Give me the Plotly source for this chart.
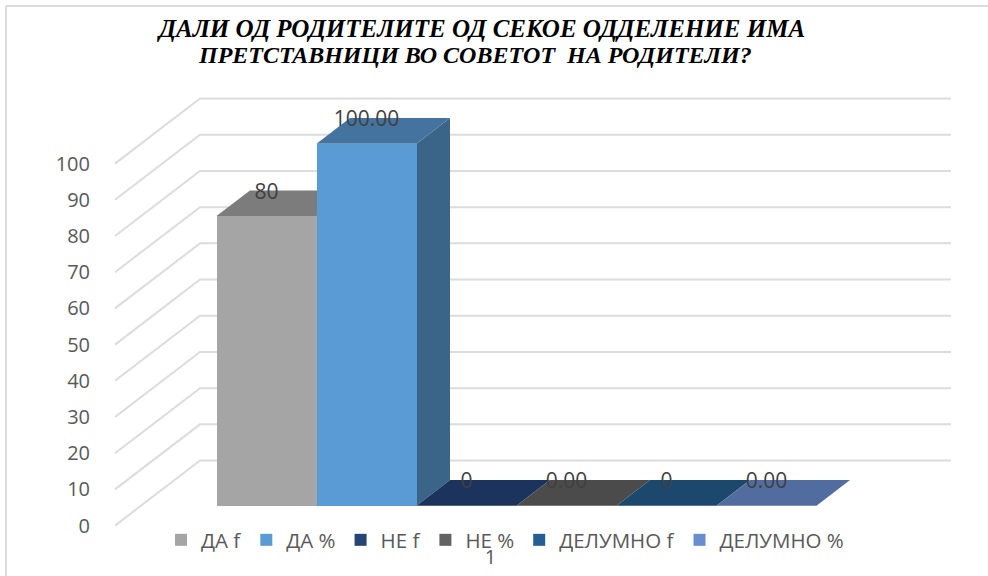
import plotly.graph_objects as go

series_names = ["ДА f", "ДА %", "НЕ f", "НЕ %", "ДЕЛУМНО f", "ДЕЛУМНО %"]
series_values = [80, 100, 0, 0, 0, 0]
value_labels = ["80", "100.00", "0", "0.00", "0", "0.00"]
category_labels = ["1"]
y_ticks = [0, 10, 20, 30, 40, 50, 60, 70, 80, 90, 100]

front_colors = ["#a5a5a5", "#5b9bd5", "#264478", "#636363", "#255e91", "#698ed0"]
top_colors = ["#7c7c7c", "#44739f", "#1c335d", "#4b4b4b", "#1c486e", "#516c9f"]
side_colors = ["#6b6b6b", "#3a6488", "#182c50", "#404040", "#183e5e", "#456189"]

TITLE_1 = "ДАЛИ ОД РОДИТЕЛИТЕ ОД СЕКОЕ ОДДЕЛЕНИЕ ИМА"
TITLE_2 = "ПРЕТСТАВНИЦИ ВО СОВЕТОТ  НА РОДИТЕЛИ?"

# oblique projection of the 3-D look: one depth unit, in axis units
DX, DY = 0.85, 17.96
D0, D1 = 0.306, 0.70
GAP = 0.755
SPAN = GAP * 2 + len(series_values)
LABEL_DROP = 0.83
PLOT_L, PLOT_B = 100, 543
XR = [-0.15, 8.73]
YR = [-4.81, 145.19]
GRID = "#dcdcdc"
TXT = "#595959"
FONT = "Open Sans"


def proj(x, v, d):
    return x + DX * d, v + DY * d


fig = go.Figure()

# walls / gridlines
gx, gy = [], []
for t in y_ticks:
    for x, d in [(0, 0), (0, 1), (SPAN, 1)]:
        px, py = proj(x, t, d)
        gx.append(px)
        gy.append(py)
    gx.append(None)
    gy.append(None)
fig.add_trace(go.Scatter(x=gx, y=gy, mode="lines", line=dict(color=GRID, width=2),
                         showlegend=False, hoverinfo="skip"))

base = DY * D0
for i, v in enumerate(series_values):
    x0, x1 = GAP + i, GAP + i + 1
    # right side
    pts = [proj(x1, v, D0), proj(x1, v, D1), proj(x1, 0, D1), proj(x1, 0, D0)]
    fig.add_trace(go.Scatter(x=[p[0] for p in pts], y=[p[1] for p in pts], mode="lines",
                             fill="toself", fillcolor=side_colors[i], line=dict(width=0),
                             showlegend=False, hoverinfo="skip"))
    # top
    pts = [proj(x0, v, D0), proj(x0, v, D1), proj(x1, v, D1), proj(x1, v, D0)]
    fig.add_trace(go.Scatter(x=[p[0] for p in pts], y=[p[1] for p in pts], mode="lines",
                             fill="toself", fillcolor=top_colors[i], line=dict(width=0),
                             showlegend=False, hoverinfo="skip"))

# front faces, on an overlay so they cover neighbouring side faces
for i, v in enumerate(series_values):
    fig.add_trace(go.Bar(x=[GAP + i + 0.5 + DX * D0], y=[v], base=[base], width=[1],
                         name=series_names[i], marker=dict(color=front_colors[i], line=dict(width=0)),
                         xaxis="x2", yaxis="y2"))

fig.add_trace(go.Scatter(
    x=[GAP + i + 0.5 + DX * D0 for i in range(len(series_values))],
    y=[v + DY * D1 - LABEL_DROP for v in series_values],
    mode="text", text=value_labels, textposition="middle center",
    textfont=dict(family=FONT, size=21, color="#404040"),
    showlegend=False, hoverinfo="skip", xaxis="x2", yaxis="y2"))

frame = dict(type="line", xref="paper", yref="paper", line=dict(color="#dcdcdc", width=2), layer="above")
fig.update_layout(
    width=988, height=576,
    margin=dict(l=PLOT_L, r=0, t=0, b=576 - PLOT_B, autoexpand=False),
    paper_bgcolor="white", plot_bgcolor="rgba(0,0,0,0)",
    barmode="overlay", bargap=0,
    title=dict(text="<b><i>" + TITLE_1 + "</i></b>", x=482 / 988, xanchor="center", xref="container",
               y=1 - 28 / 576, yanchor="middle", yref="container",
               font=dict(family="Liberation Serif", size=25, color="black")),
    annotations=[dict(text="<b><i>" + TITLE_2 + "</i></b>", xref="paper", yref="paper",
                      x=(475 - PLOT_L) / 888, y=(PLOT_B - 55) / PLOT_B, xanchor="center", yanchor="middle",
                      showarrow=False, font=dict(family="Liberation Serif", size=24, color="black"))],
    font=dict(family=FONT, color=TXT),
    xaxis=dict(range=XR, showgrid=False, zeroline=False, showline=False, tickvals=[SPAN / 2],
               ticktext=category_labels, ticks="", tickfont=dict(family=FONT, size=20, color=TXT)),
    yaxis=dict(range=YR, showgrid=False, zeroline=False, showline=False, tickvals=y_ticks,
               ticks="outside", ticklen=5, tickcolor="rgba(0,0,0,0)",
               tickfont=dict(family=FONT, size=20, color=TXT)),
    xaxis2=dict(range=XR, overlaying="x", visible=False),
    yaxis2=dict(range=YR, overlaying="y", visible=False),
    legend=dict(orientation="h", x=(161 - PLOT_L) / 888, y=3 / PLOT_B, xanchor="left", yanchor="middle",
                font=dict(family=FONT, size=20.5, color=TXT), bgcolor="rgba(0,0,0,0)",
                traceorder="normal"),
    shapes=[
        dict(frame, x0=-94 / 888, x1=-94 / 888, y0=(PLOT_B - 6) / PLOT_B, y1=-(576 - PLOT_B) / PLOT_B),
        dict(frame, x0=-94 / 888, x1=1, y0=(PLOT_B - 6) / PLOT_B, y1=(PLOT_B - 6) / PLOT_B),
    ],
)
fig.write_html("out.html", config=dict(displayModeBar=False),
               post_script="document.body.style.margin='0';")
